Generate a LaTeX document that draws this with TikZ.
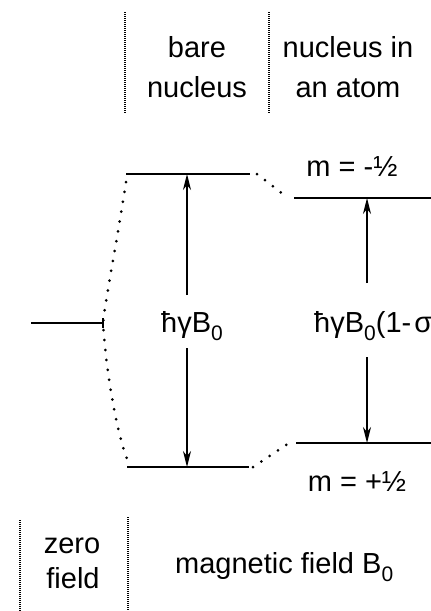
\documentclass[tikz,border=0pt]{standalone}
\usepackage{fontspec}
\setmainfont{Liberation Sans}
\usetikzlibrary{arrows.meta,positioning}
\newcommand{\lowsub}[1]{\raisebox{-0.3em}{\fontsize{21}{21}\selectfont #1}}

\begin{document}
\begin{tikzpicture}[x=1pt, y=-1pt,
    level/.style={line width=2pt},
    link/.style={line width=3pt, line cap=round, dash pattern=on 0pt off 10pt},
    divider/.style={line width=1.3pt, dash pattern=on 1pt off 1pt},
    gap/.style={-{Stealth[length=16pt, width=8pt, inset=5pt]}, line width=1.4pt},
    txt/.style={font=\fontsize{29}{37}\selectfont, inner sep=0pt}]
  \clip (0,0) rectangle (431,611);

  % Column headings
  \coordinate (d1t) at (125,12);  \coordinate (d1b) at (125,113);
  \coordinate (d2t) at (269,12);  \coordinate (d2b) at (269,113);
  \draw[divider] (d1t) -- (d1b);
  \draw[divider] (d2t) -- (d2b);
  \node[txt, anchor=base] (bare)    at (197,57) {bare};
  \node[txt, anchor=base] (barenuc) at (197,97) {nucleus};
  \node[txt, anchor=base] (atomin)  at (348,57) {nucleus in};
  \node[txt, anchor=base] (atomat)  at (348,97) {an atom};

  % Energy levels
  \coordinate (zl)  at (31,323);  \coordinate (zr)  at (103,323);
  \coordinate (bul) at (126,174); \coordinate (bur) at (250,174);
  \coordinate (bll) at (127,467); \coordinate (blr) at (249,467);
  \coordinate (aul) at (294,198); \coordinate (aur) at (431,198);
  \coordinate (all) at (296,443); \coordinate (alr) at (431,443);
  \draw[level] (zl) -- (zr);
  \draw[line width=1.3pt] ([yshift=-5pt]zr) -- ([yshift=5pt]zr);
  \draw[level] (bul) -- (bur);
  \draw[level] (bll) -- (blr);
  \draw[level] (aul) -- (aur);
  \draw[level] (all) -- (alr);

  % Dotted correlation lines
  \draw[link] ([yshift=-8pt]bul) .. controls (119,230) and (107,290) .. (zr)
    .. controls (106,370) and (116,430) .. ([yshift=8pt]bll);
  \draw[link] ([xshift=7pt]bur) -- ([xshift=-6pt]aul);
  \draw[link] ([xshift=4pt]blr) -- ([xshift=-7pt]all);

  % Splittings
  \coordinate (bupS) at (187,295); \coordinate (bdnS) at (187,348);
  \coordinate (aupS) at (367,283); \coordinate (adnS) at (367,357);
  \draw[gap] (bupS) -- (bupS |- bul);
  \draw[gap] (bdnS) -- (bdnS |- bll);
  \draw[gap] (aupS) -- (aupS |- aul);
  \draw[gap] (adnS) -- (adnS |- all);
  \node[txt, anchor=base west] (gapbare) at (161,332) {ħγB\lowsub{0}};
  \node[txt, anchor=base west] (gapatom) at (314,332) {ħγB\lowsub{0}(1-\kern3pt σ)};
  \node[txt, anchor=base] (mminus) at (352,176) {m = -½};
  \node[txt, anchor=base] (mplus)  at (357,491) {m = +½};

  % Field axis
  \coordinate (d3t) at (20,520);  \coordinate (d3b) at (20,611);
  \coordinate (d4t) at (128,517); \coordinate (d4b) at (128,611);
  \draw[divider] (d3t) -- (d3b);
  \draw[divider] (d4t) -- (d4b);
  \node[txt, anchor=base] (zero)  at (72,553) {zero};
  \node[txt, anchor=base] (field) at (73,588) {field};
  \node[txt, anchor=base west] (bfield) at (175,573) {magnetic field B\lowsub{0}};
\end{tikzpicture}
\end{document}
